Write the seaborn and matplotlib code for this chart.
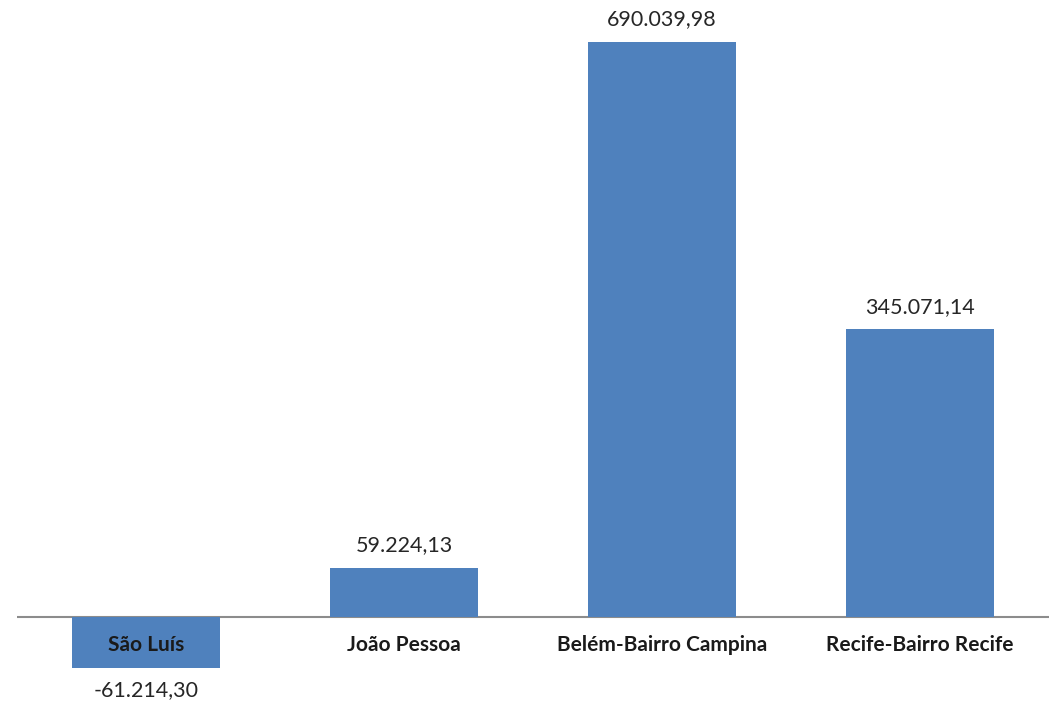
import matplotlib
matplotlib.use("Agg")
import matplotlib.pyplot as plt
import seaborn as sns

categories = ["São Luís", "João Pessoa", "Belém-Bairro Campina", "Recife-Bairro Recife"]
values = [-61214.30, 59224.13, 690039.98, 345071.14]


def fmt_br(v):
    s = f"{v:,.2f}"
    return s.replace(",", "X").replace(".", ",").replace("X", ".")


sns.set_style("white")
plt.rcParams['font.family'] = ['Lato', 'DejaVu Sans']

fig = plt.figure(figsize=(10.51, 7.07), dpi=100)
ax = fig.add_axes([17 / 1051, 0, (1049 - 17) / 1051, 1])

sns.barplot(x=categories, y=values, color="#4F81BD", saturation=1, width=0.57,
            linewidth=0, edgecolor="#4F81BD", ax=ax)

ax.set_xlim(-0.5, 3.5)
ax.set_ylim(-108000, 740400)
ax.set_axisbelow(False)

for s in ["top", "right", "left", "bottom"]:
    ax.spines[s].set_visible(False)
ax.axhline(0, color="#8c8c8c", linewidth=1.5, zorder=0.5)

ax.set_yticks([])
ax.xaxis.set_ticks_position("bottom")
ax.tick_params(axis="x", length=0, labelsize=15, labelcolor="#1a1a1a")
# place tick labels just under the zero line
ax.spines["bottom"].set_position(("data", 0))
ax.tick_params(axis="x", pad=13)
for lbl in ax.get_xticklabels():
    lbl.set_fontweight("bold")

ax.bar_label(ax.containers[0], labels=[fmt_br(v) for v in values],
             padding=9, fontsize=15.5, color="#262626")
ax.set_xlabel("")
ax.set_ylabel("")

fig.savefig("out.png", dpi=100)
